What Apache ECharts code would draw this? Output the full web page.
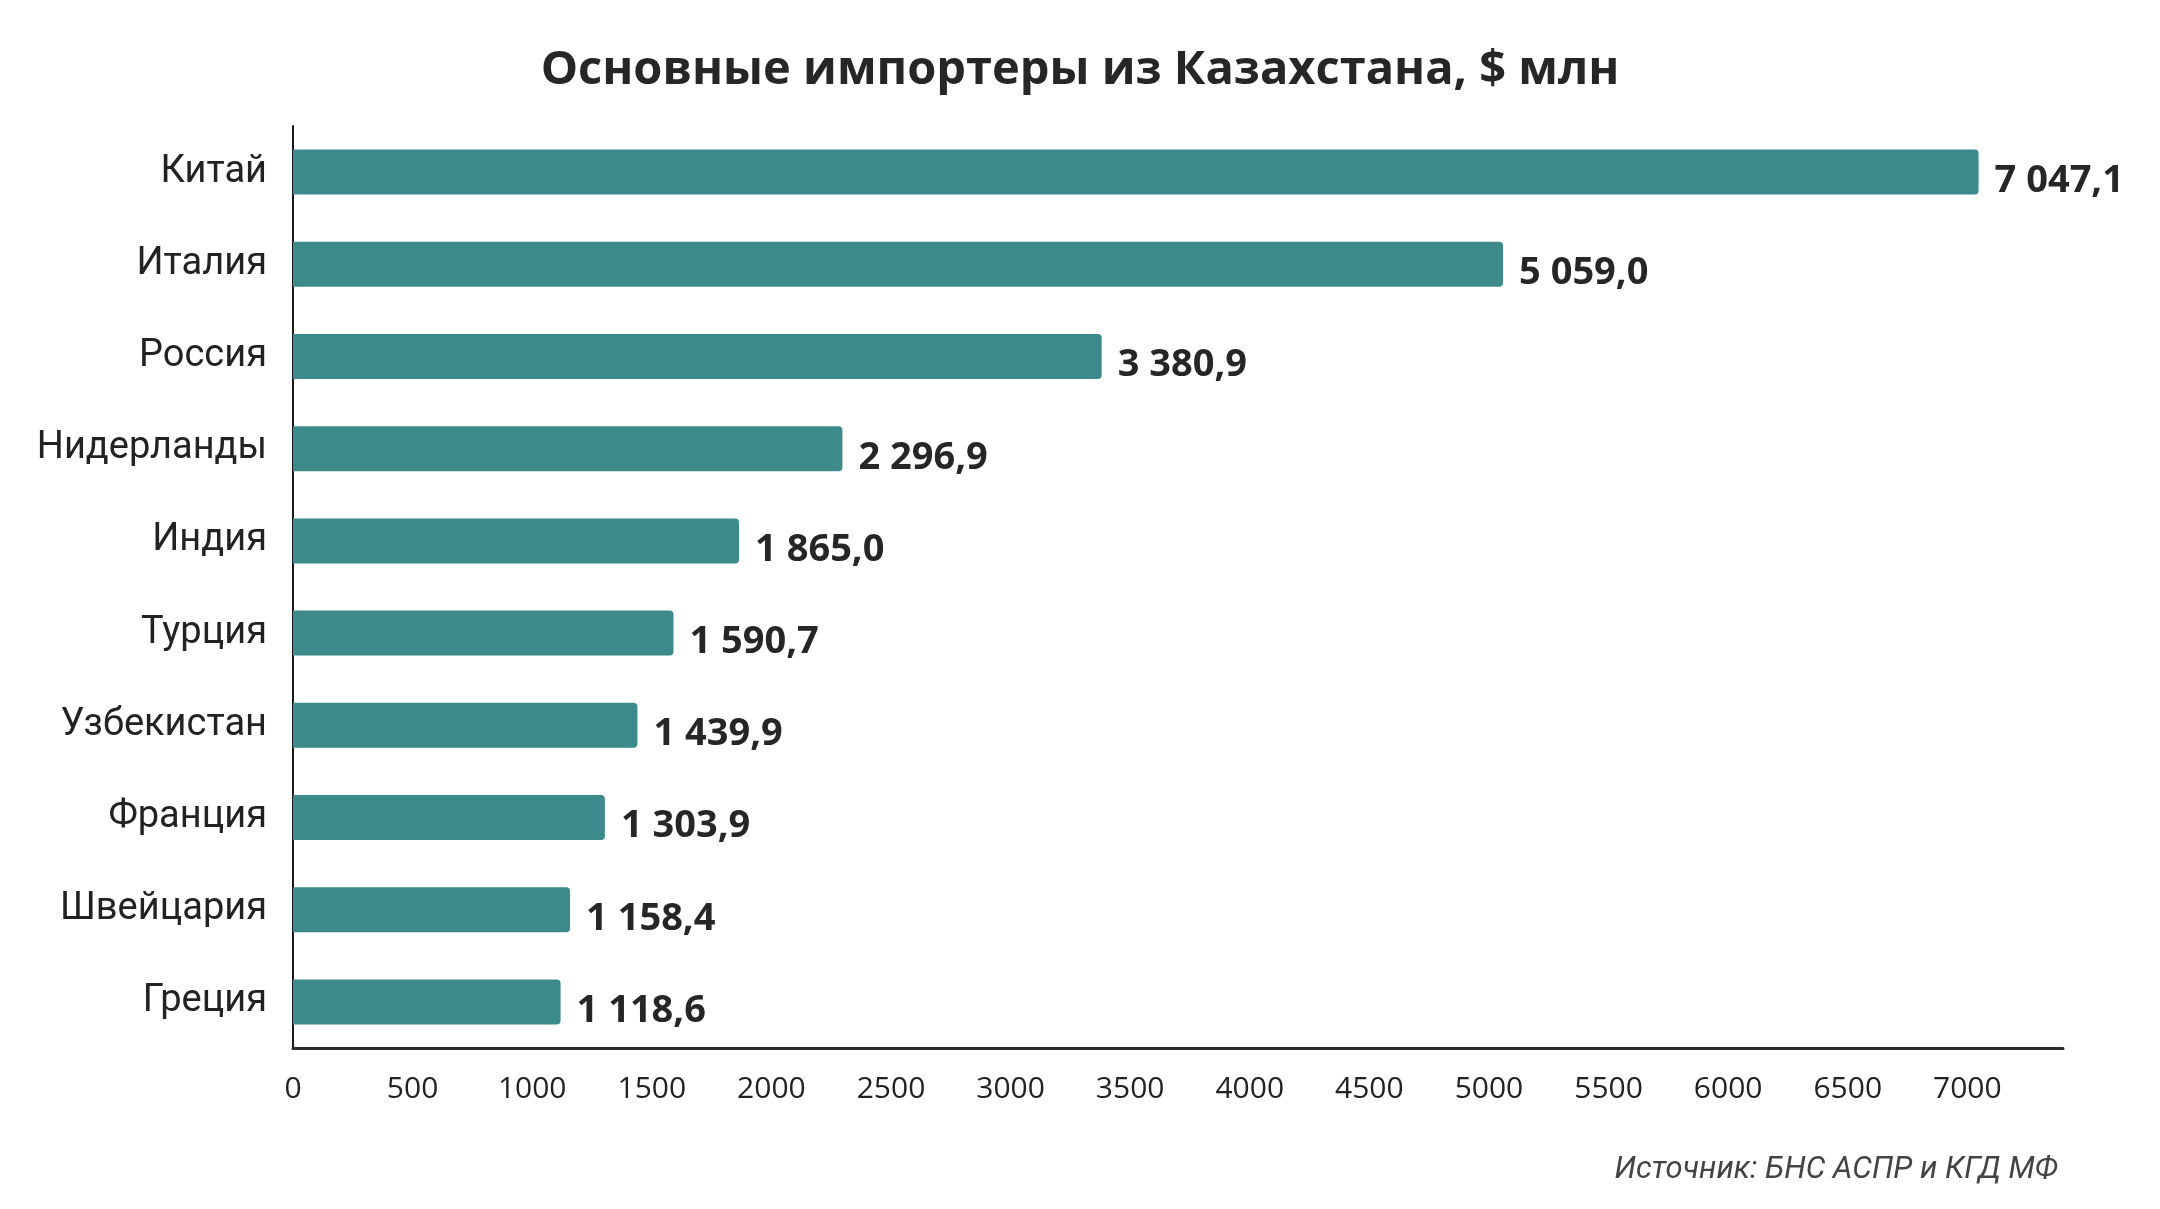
<!DOCTYPE html>
<head>
  <meta charset="utf-8">
  <title>Основные импортеры из Казахстана</title>
  <script src="https://cdn.jsdelivr.net/npm/echarts@6/dist/echarts.min.js"></script>
  <style>
    html, body { margin: 0; padding: 0; background: #fff; }
    #main { width: 2160px; height: 1209px; }
  </style>
</head>
<body>
  <div id="main"></div>
  <script>
    var countries = ['Китай', 'Италия', 'Россия', 'Нидерланды', 'Индия',
                     'Турция', 'Узбекистан', 'Франция', 'Швейцария', 'Греция'];
    var imports = [7047.1, 5059.0, 3380.9, 2296.9, 1865.0,
                   1590.7, 1439.9, 1303.9, 1158.4, 1118.6];

    // "7 047,1" style
    function fmt(v) {
      var parts = v.toFixed(1).split('.');
      return parts[0].replace(/\B(?=(\d{3})+(?!\d))/g, ' ') + ',' + parts[1];
    }

    var myChart = echarts.init(document.getElementById('main'));

    var option = {
      backgroundColor: '#fff',
      animation: false,
      title: [{
        text: 'Основные импортеры из Казахстана, $ млн',
        left: 1075,
        textAlign: 'center',
        top: 42,
        textStyle: {
          fontFamily: 'Open Sans',
          fontWeight: 'bold',
          fontSize: 47,
          color: '#262626'
        }
      }, {
        text: 'Источник: БНС АСПР и КГД МФ',
        right: 97,
        top: 1150,
        textStyle: {
          fontFamily: 'Roboto',
          fontStyle: 'italic',
          fontWeight: 'normal',
          fontSize: 31,
          color: '#444'
        }
      }],
      grid: {
        left: 293,
        right: 97,
        top: 126,
        bottom: 161
      },
      xAxis: {
        type: 'value',
        min: 0,
        max: 7400,
        interval: 500,
        splitLine: { show: false },
        axisTick: { show: false },
        axisLine: { show: true, lineStyle: { color: '#2b2b2b', width: 3 } },
        axisLabel: {
          margin: 26,
          fontFamily: 'Open Sans',
          fontSize: 30,
          color: '#222',
          showMaxLabel: false,
          formatter: function (v) { return String(v); }
        }
      },
      yAxis: {
        type: 'category',
        data: countries,
        inverse: true,
        axisTick: { show: false },
        axisLine: { show: true, lineStyle: { color: '#1a1a1a', width: 2 } },
        axisLabel: {
          margin: 26,
          fontFamily: 'Roboto',
          fontSize: 38,
          color: '#222'
        }
      },
      series: [{
        type: 'bar',
        data: imports,
        barWidth: 45,
        itemStyle: {
          color: '#3d8a8a',
          borderRadius: [0, 4, 4, 0]
        },
        label: {
          show: true,
          position: 'right',
          distance: 16,
          offset: [0, 9],
          fontFamily: 'Open Sans',
          fontWeight: 'bold',
          fontSize: 38,
          color: '#262626',
          formatter: function (p) { return fmt(p.value); }
        }
      }]
    };

    myChart.setOption(option);
  </script>
</body>
